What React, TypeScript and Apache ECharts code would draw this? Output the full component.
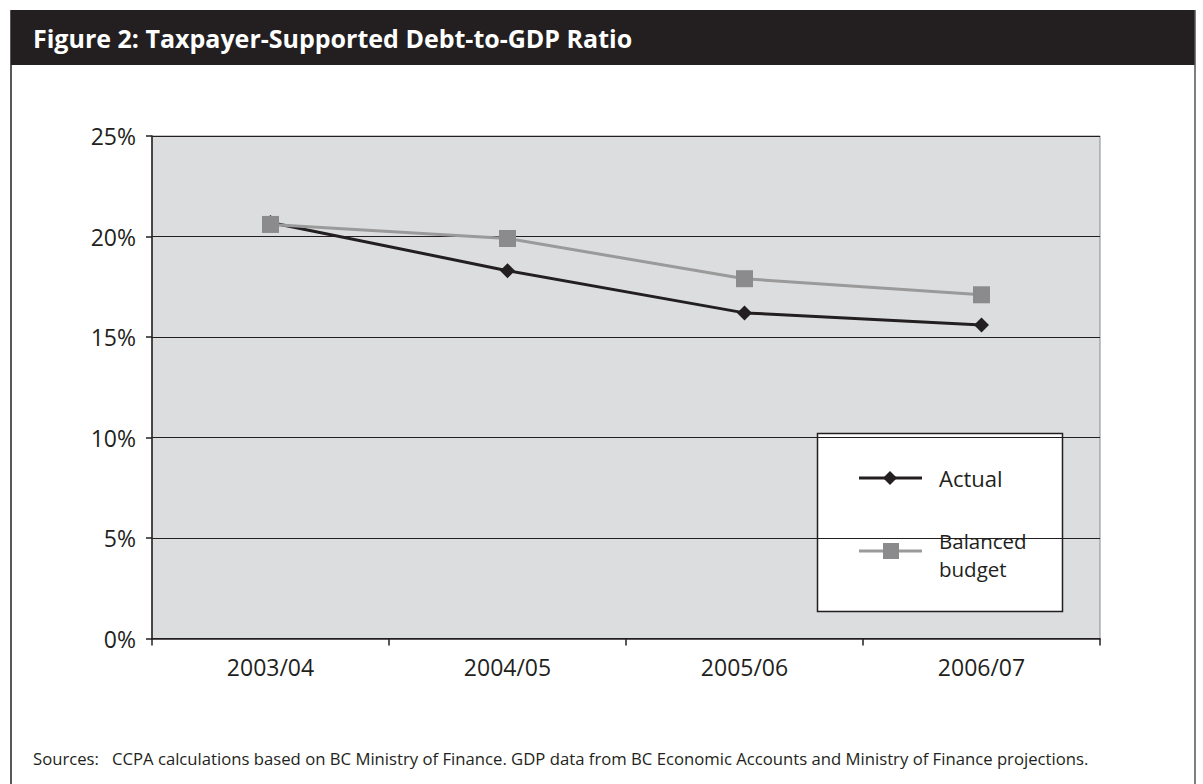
import React, { useEffect, useRef } from "react";
import * as echarts from "echarts";

const titleText = "Figure 2: Taxpayer-Supported Debt-to-GDP Ratio";
const sourceText =
  "Sources:   CCPA calculations based on BC Ministry of Finance. GDP data from BC Economic Accounts and Ministry of Finance projections.";
const categories = ["2003/04", "2004/05", "2005/06", "2006/07"];
const actual = [20.7, 18.3, 16.2, 15.6];
const balanced = [20.6, 19.9, 17.9, 17.1];
const seriesNames = ["Actual", "Balanced\nbudget"];

const FONT = "'Open Sans', 'Noto Sans', sans-serif";
const DARK = "#231f20";
const GRAY_LINE = "#9a9a9a";
const GRAY_MARK = "#8b8b8d";

export default function App() {
  const ref = useRef<HTMLDivElement>(null);
  useEffect(() => {
    if (!ref.current) return;
    const chart = echarts.init(ref.current, null, { renderer: "svg" });
    const balLines = seriesNames[1].split("\n");
    chart.setOption({
      animation: false,
      backgroundColor: "#ffffff",
      textStyle: { fontFamily: FONT },
      grid: {
        left: 152,
        top: 136,
        right: 103,
        bottom: 145.5,
        show: true,
        backgroundColor: "#dcdddf",
        borderColor: "#8a8a8a",
        borderWidth: 1,
      },
      xAxis: {
        type: "category",
        data: categories,
        boundaryGap: true,
        axisLine: { lineStyle: { color: DARK, width: 1.5 } },
        axisTick: { show: true, length: 7, interval: 0, lineStyle: { color: DARK, width: 1.5 } },
        axisLabel: { fontSize: 23, color: DARK, margin: 17, fontFamily: FONT },
        splitLine: { show: false },
      },
      yAxis: {
        type: "value",
        min: 0,
        max: 25,
        interval: 5,
        axisLine: { show: true, lineStyle: { color: DARK, width: 1.5 } },
        axisTick: { show: true, length: 6, lineStyle: { color: DARK, width: 1.5 } },
        axisLabel: { fontSize: 23, color: DARK, margin: 16, formatter: "{value}%", fontFamily: FONT },
        splitLine: { show: true, lineStyle: { color: DARK, width: 1 } },
      },
      series: [
        {
          name: "Actual",
          type: "line",
          data: actual,
          symbol: "diamond",
          symbolSize: 15,
          lineStyle: { color: DARK, width: 3 },
          itemStyle: { color: DARK },
          z: 2,
        },
        {
          name: "Balanced budget",
          type: "line",
          data: balanced,
          symbol: "rect",
          symbolSize: 17,
          lineStyle: { color: GRAY_LINE, width: 3 },
          itemStyle: { color: GRAY_MARK },
          z: 3,
        },
      ],
      graphic: [
        {
          type: "rect",
          shape: { x: 11, y: 10, width: 1184, height: 55 },
          style: { fill: DARK },
          z: 10,
        },
        {
          type: "text",
          x: 33,
          y: 38,
          style: {
            text: titleText,
            fill: "#ffffff",
            font: `bold 25px ${FONT}`,
            verticalAlign: "middle",
          },
          z: 11,
        },
        {
          type: "line",
          shape: { x1: 11, y1: 10, x2: 11, y2: 800 },
          style: { stroke: DARK, lineWidth: 1.5 },
          z: 10,
        },
        {
          type: "line",
          shape: { x1: 1195, y1: 10, x2: 1195, y2: 800 },
          style: { stroke: "#555555", lineWidth: 1.5 },
          z: 10,
        },
        {
          type: "text",
          x: 33,
          y: 758,
          style: {
            text: sourceText,
            fill: DARK,
            font: `16.7px ${FONT}`,
            verticalAlign: "middle",
          },
          z: 10,
        },
        {
          type: "group",
          z: 20,
          children: [
            {
              type: "rect",
              shape: { x: 817.5, y: 433.5, width: 245, height: 178 },
              style: { fill: "#ffffff", stroke: DARK, lineWidth: 1.5 },
            },
            {
              type: "line",
              shape: { x1: 859, y1: 478, x2: 922, y2: 478 },
              style: { stroke: DARK, lineWidth: 3 },
            },
            {
              type: "polygon",
              shape: { points: [[890, 471], [897, 478], [890, 485], [883, 478]] },
              style: { fill: DARK },
            },
            {
              type: "text",
              x: 939,
              y: 478,
              style: { text: seriesNames[0], fill: DARK, font: `22px ${FONT}`, verticalAlign: "middle" },
            },
            {
              type: "line",
              shape: { x1: 859, y1: 551, x2: 922, y2: 551 },
              style: { stroke: GRAY_LINE, lineWidth: 3 },
            },
            {
              type: "rect",
              shape: { x: 883, y: 543, width: 16, height: 16 },
              style: { fill: GRAY_MARK },
            },
            {
              type: "text",
              x: 939,
              y: 541,
              style: { text: balLines[0], fill: DARK, font: `20.5px ${FONT}`, lineHeight: 20, verticalAlign: "middle" },
            },
            {
              type: "text",
              x: 939,
              y: 569,
              style: { text: balLines[1], fill: DARK, font: `20.5px ${FONT}`, lineHeight: 20, verticalAlign: "middle" },
            },
          ],
        },
      ],
    });
    return () => chart.dispose();
  }, []);
  return (
    <div
      ref={ref}
      style={{ position: "fixed", left: 0, top: 0, width: 1203, height: 784 }}
    />
  );
}
